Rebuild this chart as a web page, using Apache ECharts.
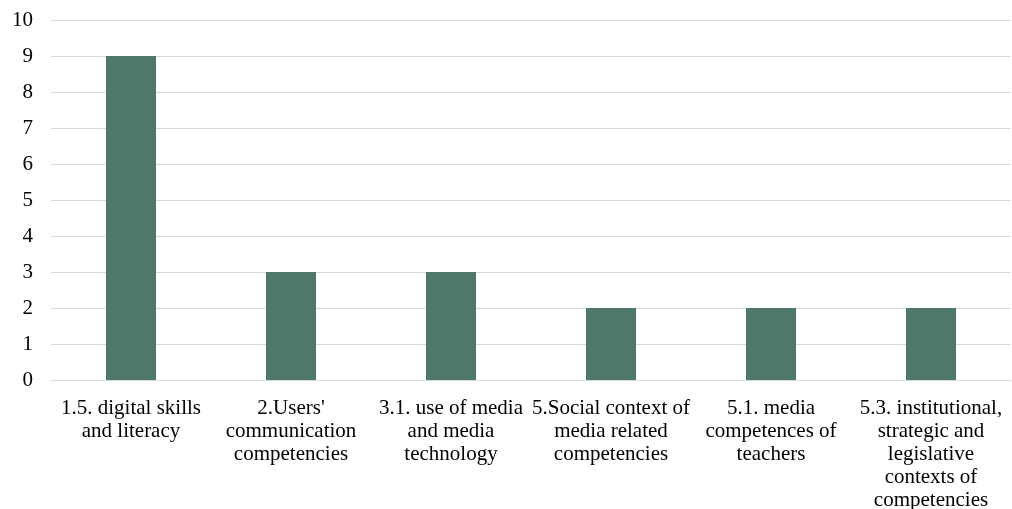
<!DOCTYPE html>
<html><head><meta charset="utf-8">
<script src="https://cdn.jsdelivr.net/npm/echarts@6/dist/echarts.min.js"></script>
<style>html,body{margin:0;padding:0;background:#fff}#c{width:1012px;height:509px}</style>
</head><body><div id="c"></div>
<script>
const categories = [
  "1.5. digital skills\nand literacy",
  "2.Users'\ncommunication\ncompetencies",
  "3.1. use of media\nand media\ntechnology",
  "5.Social context of\nmedia related\ncompetencies",
  "5.1. media\ncompetences of\nteachers",
  "5.3. institutional,\nstrategic and\nlegislative\ncontexts of\ncompetencies"
];
const values = [9, 3, 3, 2, 2, 2];
const chart = echarts.init(document.getElementById('c'));
chart.setOption({
  animation: false,
  grid: {left: 51, right: 1, top: 20, bottom: 129, containLabel: false, outerBoundsMode: 'none'},
  xAxis: {
    type: 'category', data: categories,
    axisLine: {show: true, lineStyle: {color: '#d9d9d9', width: 1}},
    axisTick: {show: false},
    axisLabel: {interval: 0, color: '#000', fontFamily: 'Liberation Serif', fontSize: 21, lineHeight: 23, margin: 17}
  },
  yAxis: {
    type: 'value', min: 0, max: 10, interval: 1,
    axisLine: {show: false}, axisTick: {show: false},
    splitLine: {lineStyle: {color: '#d9d9d9', width: 1}},
    axisLabel: {color: '#000', fontFamily: 'Liberation Serif', fontSize: 21, margin: 18}
  },
  series: [{type: 'bar', data: values, barWidth: 50, itemStyle: {color: '#4e786c'}}]
});
</script></body></html>
